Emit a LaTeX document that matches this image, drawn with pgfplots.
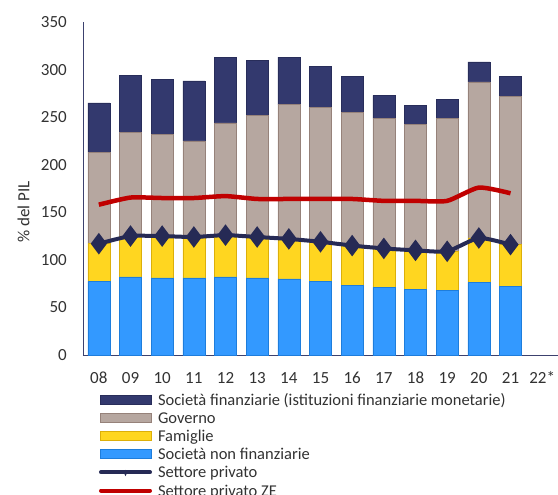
\documentclass[border=0pt]{standalone}
\usepackage{pgfplots}
\pgfplotsset{compat=1.18}
\usepackage{pgfplotstable}
\usepackage{fontspec}
\setmainfont{Carlito}
\definecolor{fin}{RGB}{51,57,110}
\definecolor{find}{RGB}{40,45,90}
\definecolor{gov}{RGB}{182,167,160}
\definecolor{govd}{RGB}{150,130,122}
\definecolor{fam}{RGB}{255,214,32}
\definecolor{famd}{RGB}{220,175,10}
\definecolor{snf}{RGB}{51,153,255}
\definecolor{snfd}{RGB}{30,125,220}
\definecolor{priv}{RGB}{38,42,85}
\definecolor{ze}{RGB}{192,0,0}
\definecolor{axc}{RGB}{60,65,110}
\definecolor{txt}{RGB}{50,50,50}
\pgfplotstableread{
x blue yel gov fin priv ze
0 77 40 96 52 117 158
1 82 43 109 60 125 165.5
2 81 44 107 58 125 165
3 81 43 101 63 124 165
4 82 44 118 69 126 167
5 81 43 128 58 124 164
6 80 42 141 50 122 164
7 77 42 141 43 119 164
8 73 42 140 38 115 164
9 71 41 136.5 24.5 112 162
10 69 41 132 20 110 162
11 68 41 139.5 20.5 109 162
12 76 47 164 21 123 176
13 72 44 156 21 116 170
}\data
\begin{document}
\begin{tikzpicture}
\path[use as bounding box] (-83bp,-140bp) rectangle (475bp,355bp);
\begin{axis}[
 at={(0,0)}, anchor=south west, scale only axis, width=475bp, height=333bp,
 xmin=-0.5, xmax=14.5, ymin=0, ymax=350,
 ybar stacked, bar width=22bp,
 axis lines*=left,
 axis line style={draw=axc, line width=0.8bp},
 xtick={0,...,14}, xticklabels={08,09,10,11,12,13,14,15,16,17,18,19,20,21,22*},
 ytick={0,50,...,350},
 major tick length=0pt,
 tick label style={font=\fontsize{17bp}{20bp}\selectfont, text=txt, inner sep=0pt},
 yticklabel style={anchor=east, xshift=-16bp},
 xticklabel style={anchor=base, yshift=-28bp},
 /pgf/number format/assume math mode=true,
 ylabel={\% del PIL},
 ylabel style={at={(axis description cs:-0.125,0.43)}, anchor=center, font=\fontsize{17bp}{20bp}\selectfont, text=txt},
 clip=false,
]
\addplot[fill=snf, draw=snfd, line width=0.6bp] table[x=x,y=blue]{\data};
\addplot[fill=fam, draw=famd, line width=0.6bp] table[x=x,y=yel]{\data};
\addplot[fill=gov, draw=govd, line width=0.6bp] table[x=x,y=gov]{\data};
\addplot[fill=fin, draw=find, line width=0.6bp] table[x=x,y=fin]{\data};
\end{axis}
\begin{axis}[
 at={(0,0)}, anchor=south west, scale only axis, width=475bp, height=333bp,
 xmin=-0.5, xmax=14.5, ymin=0, ymax=350,
 hide axis, clip=false,
 legend cell align=left,
 legend style={at={(rel axis cs:0,0)}, anchor=north west, xshift=16bp, yshift=-38bp,
   draw=none, fill=none, inner sep=0pt, outer sep=0pt, row sep=0pt, column sep=6bp,
   nodes={inner sep=0pt, text height=12bp, text depth=6.2bp, font=\fontsize{16.5bp}{19bp}\selectfont, text=txt}},
]
\addlegendimage{legend image code/.code={\filldraw[fill=fin, draw=find, line width=0.6bp] (0bp,-1.9bp) rectangle (51bp,7.1bp);}}
\addlegendentry{Società finanziarie (istituzioni finanziarie monetarie)}
\addlegendimage{legend image code/.code={\filldraw[fill=gov, draw=govd, line width=0.6bp] (0bp,-1.9bp) rectangle (51bp,7.1bp);}}
\addlegendentry{Governo}
\addlegendimage{legend image code/.code={\filldraw[fill=fam, draw=famd, line width=0.6bp] (0bp,-1.9bp) rectangle (51bp,7.1bp);}}
\addlegendentry{Famiglie}
\addlegendimage{legend image code/.code={\filldraw[fill=snf, draw=snfd, line width=0.6bp] (0bp,-1.9bp) rectangle (51bp,7.1bp);}}
\addlegendentry{Società non finanziarie}
\addlegendimage{legend image code/.code={\draw[priv, line width=4bp, line cap=round] (1bp,2.6bp)--(50bp,2.6bp); \fill[priv] (25.5bp,-0.8bp)--(27bp,2.6bp)--(25.5bp,4.6bp)--(24bp,2.6bp)--cycle;}}
\addlegendentry{Settore privato}
\addlegendimage{legend image code/.code={\draw[ze, line width=4bp, line cap=round] (1bp,2.6bp)--(50bp,2.6bp);}}
\addlegendentry{Settore privato ZE}
\addplot[forget plot, ze, line width=4.5bp, smooth, tension=0.35] table[x=x,y=ze]{\data};
\addplot[forget plot, priv, line width=4bp, smooth, tension=0.35, mark=diamond*, mark size=7.5bp, mark options={solid}] table[x=x,y=priv]{\data};
\end{axis}
\end{tikzpicture}
\end{document}
